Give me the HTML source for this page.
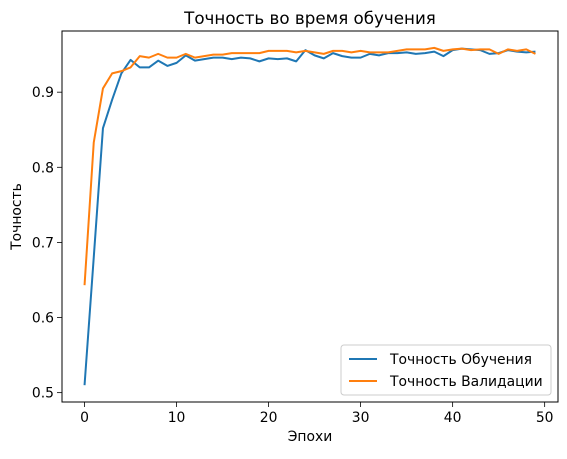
<!DOCTYPE html>
<html><head><meta charset="utf-8"><style>
body{margin:0;background:#fff;}
text{font-family:"DejaVu Sans","Liberation Sans",sans-serif;}
</style></head><body>
<svg id="chart" width="567" height="454" xmlns="http://www.w3.org/2000/svg"></svg>
<script>
const epochs = Array.from({length:50},(_,i)=>i);
const trainAcc = [0.51,0.68,0.852,0.89,0.925,0.943,0.933,0.933,0.942,0.935,0.939,0.949,0.942,0.944,0.946,0.946,0.944,0.946,0.945,0.941,0.945,0.944,0.945,0.941,0.956,0.949,0.945,0.952,0.948,0.946,0.946,0.951,0.949,0.952,0.952,0.953,0.951,0.952,0.954,0.948,0.956,0.958,0.957,0.956,0.951,0.952,0.956,0.954,0.953,0.954];
const valAcc = [0.643,0.833,0.905,0.925,0.928,0.933,0.948,0.946,0.951,0.946,0.946,0.951,0.946,0.948,0.950,0.950,0.952,0.952,0.952,0.952,0.955,0.955,0.955,0.953,0.955,0.953,0.951,0.955,0.955,0.953,0.955,0.953,0.953,0.953,0.955,0.957,0.957,0.957,0.959,0.955,0.957,0.958,0.956,0.957,0.957,0.951,0.957,0.955,0.957,0.951];
const xTicks = [0,10,20,30,40,50];
const yTicks = [0.5,0.6,0.7,0.8,0.9];

const svg=document.getElementById('chart');
const NS='http://www.w3.org/2000/svg';
const L=62,R=558,T=31,B=402;
const all=trainAcc.concat(valAcc);
const dmin=Math.min(...all),dmax=Math.max(...all),dr=dmax-dmin;
const y0=dmin-dr*0.05,y1=dmax+dr*0.05;
const x0=-(epochs.length-1)*0.05,x1=(epochs.length-1)*1.05;
const sx=v=>L+(v-x0)/(x1-x0)*(R-L);
const sy=v=>B-(v-y0)/(y1-y0)*(B-T);
function el(tag,attrs,txt){const e=document.createElementNS(NS,tag);for(const k in attrs)e.setAttribute(k,attrs[k]);if(txt!==undefined)e.textContent=txt;svg.appendChild(e);return e;}

xTicks.forEach(t=>{
  const x=sx(t);
  const tk=el('line',{x1:x,x2:x,y1:B,y2:B+5,stroke:'#000','stroke-width':0.8});
  
  
  const lb=el('text',{x:x,y:B+20,'font-size':13.9,'text-anchor':'middle'},String(t));
  
  
});
yTicks.forEach(t=>{
  const y=sy(t);
  const tk=el('line',{x1:L-5,x2:L,y1:y,y2:y,stroke:'#000','stroke-width':0.8});
  
  
  const lb=el('text',{x:L-8,y:y+5,'font-size':13.9,'text-anchor':'end'},t.toFixed(1));
  
  
});
function series(data,color,name){
  const p=el('polyline',{points:data.map((v,i)=>sx(epochs[i])+','+sy(v)).join(' '),fill:'none',stroke:color,'stroke-width':2,'stroke-linejoin':'round'});
  
  
}
series(trainAcc,'#1f77b4','train-accuracy-line');
series(valAcc,'#ff7f0e','validation-accuracy-line');
const fr=el('rect',{x:L,y:T,width:R-L,height:B-T,fill:'none',stroke:'#000','stroke-width':1});


const ti=el('text',{x:(L+R)/2,y:T-7,'font-size':16.7,'text-anchor':'middle'},'Точность во время обучения');


const xl=el('text',{x:(L+R)/2,y:441,'font-size':13.9,'text-anchor':'middle'},'Эпохи');


const yl=el('text',{x:0,y:0,'font-size':13.9,'text-anchor':'middle',transform:`translate(21,${(T+B)/2}) rotate(-90)`},'Точность');


const lg=el('rect',{x:341,y:345,width:210,height:50,rx:3,fill:'#fff','fill-opacity':0.8,stroke:'#ccc','stroke-width':1});


[['Точность Обучения','#1f77b4',359],['Точность Валидации','#ff7f0e',381]].forEach(([t,c,y])=>{
  const ln=el('line',{x1:349,x2:377,y1:y,y2:y,stroke:c,'stroke-width':2});
  
  
  const tx=el('text',{x:390,y:y+5,'font-size':13.9},t);
  
  
});
</script>
</body></html>
